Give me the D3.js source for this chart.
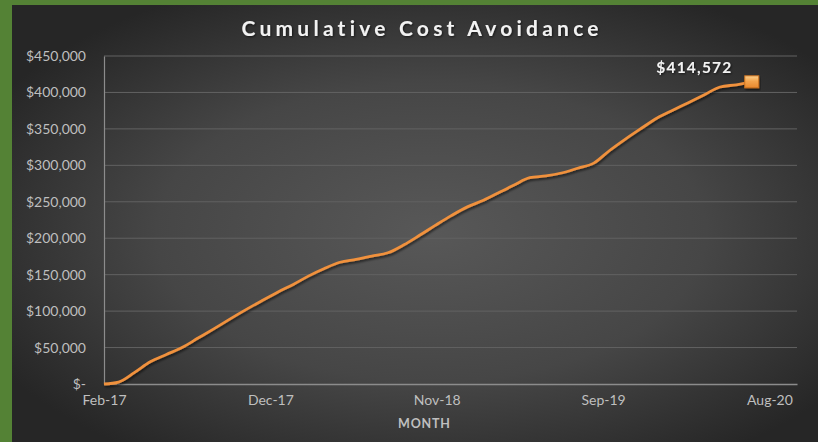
<!DOCTYPE html>
<html>
<head>
<meta charset="utf-8">
<script src="https://cdn.jsdelivr.net/npm/d3@7"></script>
<style>
  html, body { margin: 0; padding: 0; background: #548235; }
  svg { display: block; }
  text { font-family: Lato, "Open Sans", sans-serif; font-variant-ligatures: none; }
</style>
</head>
<body>
<svg id="chart" width="818" height="442"></svg>
<script>
// ---- data ----
const months = [
  "Feb-17","Mar-17","Apr-17","May-17","Jun-17","Jul-17","Aug-17","Sep-17","Oct-17","Nov-17","Dec-17",
  "Jan-18","Feb-18","Mar-18","Apr-18","May-18","Jun-18","Jul-18","Aug-18","Sep-18","Oct-18","Nov-18","Dec-18",
  "Jan-19","Feb-19","Mar-19","Apr-19","May-19","Jun-19","Jul-19","Aug-19","Sep-19","Oct-19","Nov-19","Dec-19",
  "Jan-20","Feb-20","Mar-20","Apr-20","May-20","Jun-20","Jul-20"
];
const costAvoidance = [
  0, 2700, 16000, 30500, 40500, 50000, 63000, 76000, 89000, 102000, 114000,
  126000, 137000, 148000, 158500, 167000, 171000, 175500, 180000, 191000, 204000, 218000, 231000,
  243000, 252000, 262000, 273000, 283000, 285500, 289500, 296000, 303000, 320000, 336000, 350500,
  365000, 376000, 386000, 397000, 407500, 410500, 414572
];
const xTickDates = ["2017-02-01", "2017-12-18", "2018-11-03", "2019-09-19", "2020-08-04"];
const xDomain = ["2017-02-01", "2020-09-26"];
const yTicks = [0, 50000, 100000, 150000, 200000, 250000, 300000, 350000, 400000, 450000];
const titleText = "Cumulative Cost Avoidance";
const xAxisTitle = "MONTH";

// ---- layout ----
const W = 818, H = 442;
const panel = { x: 12, y: 5 };
const plot = { left: 104, right: 797, top: 56, bottom: 384 };

const parseMonth = d3.utcParse("%b-%y");
const parseDay = d3.utcParse("%Y-%m-%d");
const data = months.map((m, i) => ({ date: parseMonth(m), value: costAvoidance[i] }));

const svg = d3.select("#chart");
const defs = svg.append("defs");

const bg = defs.append("radialGradient").attr("id", "bg")
  .attr("cx", "52%").attr("cy", "52%").attr("r", "62%");
bg.append("stop").attr("offset", "0%").attr("stop-color", "#585858");
bg.append("stop").attr("offset", "55%").attr("stop-color", "#464646");
bg.append("stop").attr("offset", "100%").attr("stop-color", "#262626");

const mk = defs.append("linearGradient").attr("id", "mk")
  .attr("x1", "0").attr("y1", "0").attr("x2", "0").attr("y2", "1");
mk.append("stop").attr("offset", "0%").attr("stop-color", "#fbd08e");
mk.append("stop").attr("offset", "45%").attr("stop-color", "#f5a44c");
mk.append("stop").attr("offset", "100%").attr("stop-color", "#e9892f");

const sh = defs.append("filter").attr("id", "shadow")
  .attr("x", "-10%").attr("y", "-10%").attr("width", "120%").attr("height", "130%");
sh.append("feDropShadow").attr("dx", 1).attr("dy", 2).attr("stdDeviation", 1.2)
  .attr("flood-color", "#000").attr("flood-opacity", 0.55);

const tsh = defs.append("filter").attr("id", "tshadow")
  .attr("x", "-10%").attr("y", "-30%").attr("width", "120%").attr("height", "160%");
tsh.append("feDropShadow").attr("dx", 1).attr("dy", 1).attr("stdDeviation", 1)
  .attr("flood-color", "#000").attr("flood-opacity", 0.6);

svg.append("rect").attr("x", panel.x).attr("y", panel.y)
  .attr("width", W - panel.x).attr("height", H - panel.y).attr("fill", "url(#bg)");

// ---- scales ----
const x = d3.scaleUtc().domain(xDomain.map(parseDay)).range([plot.left, plot.right]);
const y = d3.scaleLinear().domain([0, 450000]).range([plot.bottom, plot.top]);

// gridlines
svg.append("g").selectAll("line").data(yTicks.filter(t => t > 0)).join("line")
  .attr("x1", plot.left).attr("x2", plot.right)
  .attr("y1", d => y(d)).attr("y2", d => y(d))
  .attr("stroke", "#626262").attr("stroke-width", 1);

// y axis
const yAxis = d3.axisLeft(y).tickValues(yTicks).tickSize(0).tickPadding(18)
  .tickFormat(d => d === 0 ? "$-" : "$" + d3.format(",")(d));
const gy = svg.append("g").attr("transform", `translate(${plot.left},0)`).call(yAxis);
gy.select(".domain").attr("stroke", "#8c8c8c").attr("stroke-width", 1.2);
gy.selectAll("text").attr("fill", "#bfbfbf").style("font-size", "14px").style("font-family", "Lato, sans-serif");

// x axis
const xAxis = d3.axisBottom(x).tickValues(xTickDates.map(parseDay)).tickSize(0).tickPadding(11)
  .tickFormat(d3.utcFormat("%b-%y"));
const gx = svg.append("g").attr("transform", `translate(0,${plot.bottom})`).call(xAxis);
gx.select(".domain").attr("stroke", "#8c8c8c").attr("stroke-width", 1.5);
gx.selectAll("text").attr("fill", "#bfbfbf").style("font-size", "14px").style("font-family", "Lato, sans-serif");

// line
const line = d3.line().x(d => x(d.date)).y(d => y(d.value)).curve(d3.curveMonotoneX);
svg.append("path").datum(data).attr("d", line)
  .attr("fill", "none").attr("stroke", "#f0913d").attr("stroke-width", 2.8)
  .attr("stroke-linejoin", "round").attr("filter", "url(#shadow)");

// end marker + label
const last = data[data.length - 1];
svg.append("rect")
  .attr("x", x(last.date) - 7).attr("y", y(last.value) - 6)
  .attr("width", 14).attr("height", 12)
  .attr("fill", "url(#mk)").attr("stroke", "#d07420").attr("stroke-width", 1)
  .attr("filter", "url(#shadow)");
svg.append("text")
  .attr("x", x(last.date) - 58).attr("y", y(last.value) - 9)
  .attr("text-anchor", "middle")
  .attr("fill", "#f2f2f2").style("font-size", "15.5px").style("font-weight", "bold")
  .attr("textLength", 75).attr("lengthAdjust", "spacing")
  .attr("filter", "url(#tshadow)")
  .text("$" + d3.format(",")(last.value));

// title
svg.append("text").attr("x", 420).attr("y", 36).attr("text-anchor", "middle")
  .attr("fill", "#f2f2f2").style("font-size", "21px").style("font-weight", "bold")
  .attr("textLength", 357).attr("lengthAdjust", "spacing")
  .attr("filter", "url(#tshadow)")
  .text(titleText);

// x axis title
svg.append("text").attr("x", 424).attr("y", 428).attr("text-anchor", "middle")
  .attr("fill", "#bfbfbf").style("font-size", "12.5px").style("font-weight", "bold")
  .attr("textLength", 52).attr("lengthAdjust", "spacing")
  .text(xAxisTitle);
</script>
</body>
</html>
